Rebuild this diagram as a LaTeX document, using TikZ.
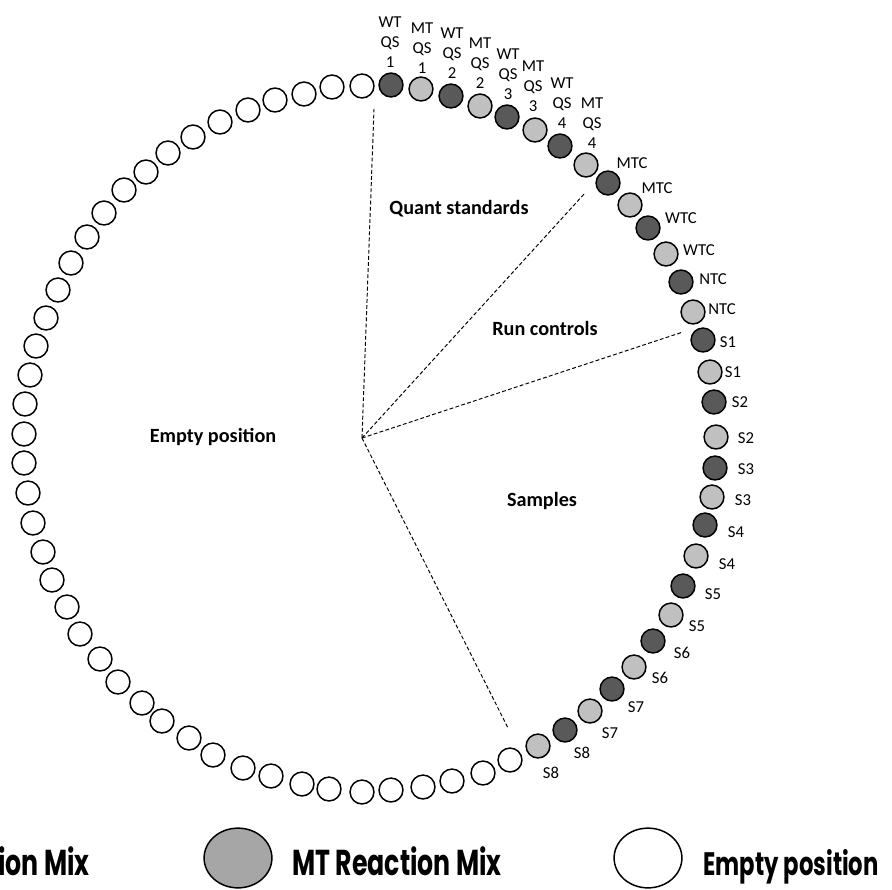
\documentclass[tikz,border=0pt]{standalone}
\usepackage{fontspec}
\setmainfont{Carlito}
\newfontfamily\legendfont[FakeStretch=0.70]{Poppins}
\usetikzlibrary{positioning,shapes.geometric}
\definecolor{wtfill}{HTML}{595959}
\definecolor{mtfill}{HTML}{C0C0C0}
\definecolor{keygrey}{HTML}{A6A6A6}

\begin{document}
\begin{tikzpicture}[x=0.02cm,y=-0.02cm,
    well/.style={circle,draw,line width=0.85pt,minimum size=13.6pt,inner sep=0pt},
    tag/.style={font=\fontsize{9.5}{11.3}\selectfont,align=center,inner sep=0pt},
    zone/.style={font=\bfseries\fontsize{11.5}{13}\selectfont,inner sep=0pt},
    divider/.style={line width=0.55pt,dash pattern=on 2.2pt off 1.3pt},
    keyshape/.style={ellipse,draw,line width=0.85pt,minimum width=38.6pt,minimum height=34pt,inner sep=0pt},
    keytext/.style={font=\legendfont\bfseries\fontsize{20.5}{22}\selectfont,inner sep=0pt}]
\useasboundingbox (0,0) rectangle (892,889);
\clip (0,0) rectangle (892,889);

% empty positions round the rotor
\foreach \x/\y [count=\i] in {362/86, 332/87, 304/94, 275/100, 248/110, 220/122, 193/137,
    168/153, 146/172, 124/190, 104/213, 87/237, 71/263, 58/290, 46/318, 36/346, 30/375,
    25/404, 24/434, 24/463, 28/493, 33/523, 43/552, 52/580, 67/607, 80/634, 100/659,
    118/682, 142/703, 162/721, 189/738, 213/755, 243/768, 271/776, 302/784, 329/789,
    362/792, 391/790, 423/787, 452/781, 483/773, 510/760} {
    \node[well,fill=white] (e\i) at (\x,\y) {};
}

% loaded positions with their labels
\foreach \x/\y/\c/\lx/\ly/\t [count=\i] in {
    391/85/wtfill/390/42/{WT\\QS\\1}, 421/89/mtfill/422/48/{MT\\QS\\1},
    451/96/wtfill/452/53/{WT\\QS\\2}, 480/106/mtfill/480/63/{MT\\QS\\2},
    507/117/wtfill/508/74/{WT\\QS\\3}, 535/130/mtfill/533/86/{MT\\QS\\3},
    560/146/wtfill/562/103/{WT\\QS\\4}, 586/165/mtfill/592/123/{MT\\QS\\4},
    608/183/wtfill/632/163/MTC, 630/205/mtfill/657/188/MTC,
    648/228/wtfill/681/218/WTC, 666/254/mtfill/699/250/WTC,
    681/282/wtfill/713/279/NTC, 693/312/mtfill/722/309/NTC,
    703/340/wtfill/728/342/S1, 710/372/mtfill/733/372/S1,
    714/402/wtfill/740/402/S2, 716/437/mtfill/746/438/S2,
    715/468/wtfill/746/469/S3, 712/497/mtfill/743/500/S3,
    705/525/wtfill/736/532/S4, 696/556/mtfill/727/564/S4,
    683/586/wtfill/713/594/S5, 671/615/mtfill/697/626/S5,
    653/641/wtfill/682/653/S6, 634/667/mtfill/660/678/S6,
    612/689/wtfill/636/707/S7, 590/711/mtfill/610/733/S7,
    565/730/wtfill/582/753/S8, 538/746/mtfill/551/773/S8} {
    \node[well,fill=\c] (w\i) at (\x,\y) {};
    \node[tag] (t\i) at (\lx,\ly) {\t};
}

% sector dividers
\coordinate (hub) at (362,438);
\coordinate (qsEdge) at (374,109);
\coordinate (rcEdge) at (585,193);
\coordinate (smEdge) at (683,332);
\coordinate (endEdge) at (508,728);
\foreach \e in {qsEdge,rcEdge,smEdge,endEdge}
    \draw[divider] (hub) -- (\e);

\node[zone] (qs) at (459,209) {Quant standards};
\node[zone] (rc) at (545,328) {Run controls};
\node[zone] (sm) at (542,501) {Samples};
\node[zone] (ep) at (213,437) {Empty position};

% legend
\node[keytext,anchor=base east] (wtKey) at (90,875) {WT Reaction Mix};
\node[keyshape,fill=keygrey] (mtKey) at (238,858) {};
\node[keytext,anchor=base west] (mtText) at (292,875) {MT Reaction Mix};
\node[keyshape,fill=white] (epKey) at (648,858) {};
\node[keytext,anchor=base west,font=\legendfont\bfseries\fontsize{18.5}{22}\selectfont] (epText) at (703,875) {Empty position};
\end{tikzpicture}
\end{document}
